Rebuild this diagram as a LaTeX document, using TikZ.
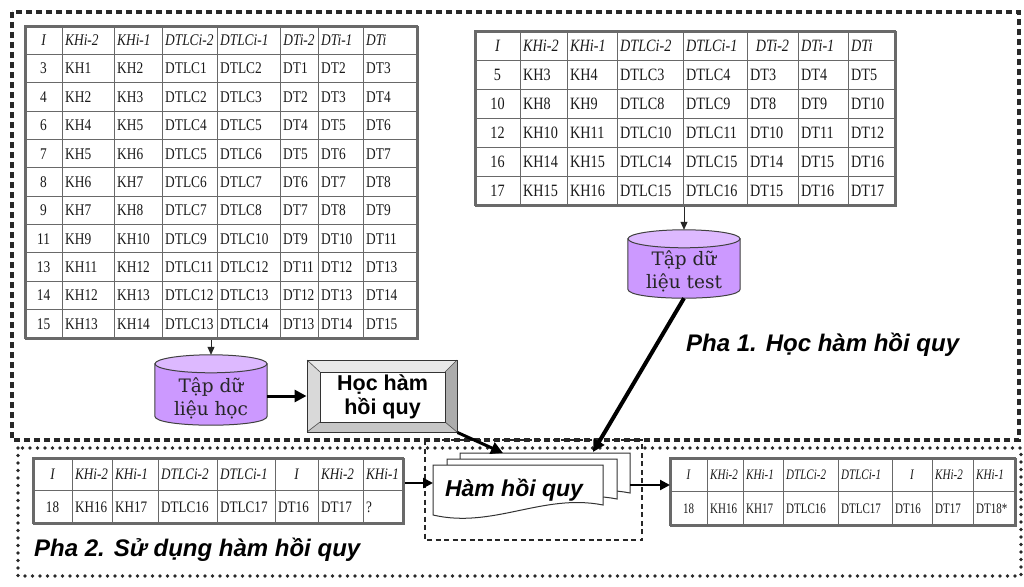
\documentclass[tikz,border=0pt]{standalone}
\usepackage{fontspec}
\setmainfont{Liberation Serif}
\setsansfont{Liberation Sans}
\newfontfamily\cylfont{DejaVu Serif}
\newfontfamily\tabfontA[FakeStretch=0.82]{Liberation Serif}
\newfontfamily\tabfontD[FakeStretch=0.76]{Liberation Serif}
\usetikzlibrary{arrows.meta,calc}
\definecolor{cylbody}{RGB}{204,153,255}
\definecolor{cyltop}{RGB}{221,185,255}
\definecolor{gridc}{RGB}{105,105,105}
\definecolor{framec}{RGB}{40,40,40}
\tikzset{
  gridline/.style={draw=gridc, line width=0.9pt},
  tblbox/.style={draw=gridc, line width=1.8pt, inner sep=0pt, fill=white},
  tblborder/.style={draw=gridc, line width=1.8pt},
  cell/.style={inner sep=0pt, text=black!90},
  cylnode/.style={inner sep=0pt},
  cyltext/.style={font=\cylfont\fontsize{18.5}{23}\selectfont, align=center, text=black!85, inner sep=0pt},
  phase/.style={font=\sffamily\bfseries\itshape\fontsize{24}{28}\selectfont, anchor=west, inner sep=0pt},
  bigarrow/.style={draw=black, line width=3pt, -{Triangle[length=12pt,width=12pt]}},
  midarrow/.style={draw=black, line width=2.2pt, -{Triangle[length=10pt,width=10pt]}},
  smallarrow/.style={draw=black!85, line width=0.8pt, -{Triangle[length=8pt,width=7pt]}},
  dashframe/.style={draw=framec, line width=3.4pt, dash pattern=on 6pt off 4pt},
  dotframe/.style={draw=framec, line width=3.8pt, line cap=round, dash pattern=on 0pt off 7.5pt},
  hamframe/.style={draw=framec, line width=2.8pt, dash pattern=on 5pt off 3.5pt},
  docshape/.style={draw=black!80, fill=white, line width=1pt},
}
\newcommand\mktable[8]{%
  \pgfmathsetmacro\TBl{{#2}[0]}%
  \pgfmathsetmacro\TBr{{#2}[8]}%
  \pgfmathsetmacro\TBw{\TBr-\TBl}%
  \pgfmathsetmacro\TBh{#5*#4}%
  \pgfmathsetmacro\TBb{#3+\TBh}%
  \node[tblbox, minimum width=\TBw pt, minimum height=\TBh pt, anchor=north west] (#1) at (\TBl,#3) {};
  \foreach \xx in {#2} {\draw[gridline] (\xx,#3) -- (\xx,\TBb);}
  \pgfmathtruncatemacro\TBn{#5-1}%
  \foreach \kk in {1,...,\TBn} {\draw[gridline] (\TBl,#3+\kk*#4) -- (\TBr,#3+\kk*#4);}
  \draw[tblborder] (\TBl,#3) rectangle (\TBr,\TBb);
  \foreach \rowv [count=\ri] in {#7} {%
    \foreach \cv [count=\ki] in \rowv {%
      \pgfmathsetmacro\xa{{#2}[\ki-1]}%
      \pgfmathsetmacro\xb{{#2}[\ki]}%
      \pgfmathsetmacro\yb{#3+(\ri-0.5)*#4+0.33*#6}%
      \def\cc{0}%
      \ifnum\ki=1 \def\cc{1}\fi
      \ifnum\ri=1 \ifnum\ki=6 \def\cc{1}\fi\fi
      \ifnum\ri=1 \def\ff{\itshape}\else\def\ff{}\fi
      \if1\cc
        \node[cell, anchor=base, font=#8\fontsize{#6}{#6}\selectfont] (#1-\ri-\ki) at ({(\xa+\xb)/2},\yb) {\ff\cv};
      \else
        \node[cell, anchor=base west, font=#8\fontsize{#6}{#6}\selectfont] (#1-\ri-\ki) at (\xa+3,\yb) {\ff\cv};
      \fi
    }%
  }%
}
\newcommand\drawcyl[1]{%
  \filldraw[fill=cylbody, draw=black!75, line width=1pt]
    ($(#1.north west)+(0,9)$) -- ($(#1.south west)+(0,-9)$)
    .. controls ($(#1.south west)+(0,3)$) and ($(#1.south east)+(0,3)$) ..
    ($(#1.south east)+(0,-9)$) -- ($(#1.north east)+(0,9)$) -- cycle;
  \filldraw[fill=cyltop, draw=black!75, line width=1pt] ($(#1.north)+(0,9)$) ellipse [x radius=56pt, y radius=9pt];
}
\newcommand\docat[2]{%
  \filldraw[docshape] (#1,#2) -- (#1+170,#2) -- (#1+170,#2+40)
    .. controls (#1+110,#2+28) and (#1+60,#2+64) .. (#1,#2+50) -- cycle;
}
\begin{document}
\begin{tikzpicture}[x=1pt,y=-1pt]
\fill[white] (0,0) rectangle (1024,586);
\useasboundingbox (0,0) rectangle (1024,586);
% frames
\draw[dashframe] (12,12) rectangle (1019,440);
\draw[dotframe] (18,448) rectangle (1021,576);
\draw[hamframe] (425,440) rectangle (642,540);
% tables
\mktable{tabA}{25,62,114,162,217,280,318,363,417}{26}{28.36}{11}{16.3}{%
  {I,KHi-2,KHi-1,DTLCi-2,DTLCi-1,DTi-2,DTi-1,DTi},
  {3,KH1,KH2,DTLC1,DTLC2,DT1,DT2,DT3},
  {4,KH2,KH3,DTLC2,DTLC3,DT2,DT3,DT4},
  {6,KH4,KH5,DTLC4,DTLC5,DT4,DT5,DT6},
  {7,KH5,KH6,DTLC5,DTLC6,DT5,DT6,DT7},
  {8,KH6,KH7,DTLC6,DTLC7,DT6,DT7,DT8},
  {9,KH7,KH8,DTLC7,DTLC8,DT7,DT8,DT9},
  {11,KH9,KH10,DTLC9,DTLC10,DT9,DT10,DT11},
  {13,KH11,KH12,DTLC11,DTLC12,DT11,DT12,DT13},
  {14,KH12,KH13,DTLC12,DTLC13,DT12,DT13,DT14},
  {15,KH13,KH14,DTLC13,DTLC14,DT13,DT14,DT15}}{\tabfontA}
\mktable{tabB}{475,520,567,617,683,747,798,848,895}{31}{29}{6}{17.3}{%
  {I,KHi-2,KHi-1,DTLCi-2,DTLCi-1,DTi-2,DTi-1,DTi},
  {5,KH3,KH4,DTLC3,DTLC4,DT3,DT4,DT5},
  {10,KH8,KH9,DTLC8,DTLC9,DT8,DT9,DT10},
  {12,KH10,KH11,DTLC10,DTLC11,DT10,DT11,DT12},
  {16,KH14,KH15,DTLC14,DTLC15,DT14,DT15,DT16},
  {17,KH15,KH16,DTLC15,DTLC16,DT15,DT16,DT17}}{\tabfontA}
\mktable{tabC}{33,72,112,158,217,275,318,363,403}{458}{32.5}{2}{16}{%
  {I,KHi-2,KHi-1,DTLCi-2,DTLCi-1,I,KHi-2,KHi-1},
  {18,KH16,KH17,DTLC16,DTLC17,DT16,DT17,?}}{\tabfontA}
\mktable{tabD}{670,707,743,783,838,892,932,973,1015}{458}{33.5}{2}{14.5}{%
  {I,KHi-2,KHi-1,DTLCi-2,DTLCi-1,I,KHi-2,KHi-1},
  {18,KH16,KH17,DTLC16,DTLC17,DT16,DT17,DT18*}}{\tabfontD}
% cylinders
\node[cylnode, minimum width=112pt, minimum height=70pt] (cylA) at (211,390) {};
\drawcyl{cylA}
\node[cyltext] (cylAtext) at ($(cylA.center)+(0,8)$) {Tập dữ\\liệu học};
\node[cylnode, minimum width=112pt, minimum height=68pt] (cylB) at (684,264) {};
\drawcyl{cylB}
\node[cyltext] (cylBtext) at ($(cylB.center)+(0,7)$) {Tập dữ\\liệu test};
% bevel box
\fill[gray!18] (307,360) -- (457,360) -- (445,372) -- (320,372) -- cycle;
\fill[gray!30] (307,360) -- (320,372) -- (320,422) -- (307,432) -- cycle;
\fill[gray!65] (457,360) -- (457,432) -- (445,422) -- (445,372) -- cycle;
\fill[gray!45] (307,432) -- (457,432) -- (445,422) -- (320,422) -- cycle;
\draw[black!70, line width=0.6pt] (307,360) -- (320,372) (457,360) -- (445,372) (457,432) -- (445,422) (307,432) -- (320,422);
\node[draw=black!80, line width=1pt, inner sep=0pt, minimum width=150pt, minimum height=72pt] (learn) at (382,396) {};
\node[draw=black!80, line width=1pt, fill=white, minimum width=125pt, minimum height=50pt, inner sep=0pt, align=center, font=\sffamily\bfseries\fontsize{21.5}{24}\selectfont] (learnin) at (382.5,397) {Học hàm\\hồi quy};
% document stack
\docat{460}{453}
\docat{447}{459}
\docat{433}{465}
\node[font=\sffamily\bfseries\itshape\fontsize{23}{26}\selectfont, inner sep=0pt] (ham) at (514,490) {Hàm hồi quy};
\coordinate (hamin1) at (503,453);
\coordinate (hamin2) at (593,452);
\coordinate (hamL) at (433,483);
\coordinate (hamR) at (630,485);
% connectors
\draw[smallarrow] (tabA.south -| cylA.north) -- (cylA.north);
\draw[bigarrow] (cylA.east |- learn.west) -- (learn.west);
\draw[bigarrow] (learn.south east) -- (hamin1);
\draw[smallarrow] (tabB.south -| cylB.north) -- (cylB.north);
\draw[bigarrow, line width=4pt] (cylB.south) -- (hamin2);
\draw[midarrow] (tabC.east |- hamL) -- (hamL);
\draw[midarrow] (hamR) -- (hamR -| tabD.west);
% labels
\node[phase] (pha1) at (686,345) {Pha 1. Học hàm hồi quy};
\node[phase] (pha2) at (34,550) {Pha 2. Sử dụng hàm hồi quy};
\end{tikzpicture}
\end{document}
